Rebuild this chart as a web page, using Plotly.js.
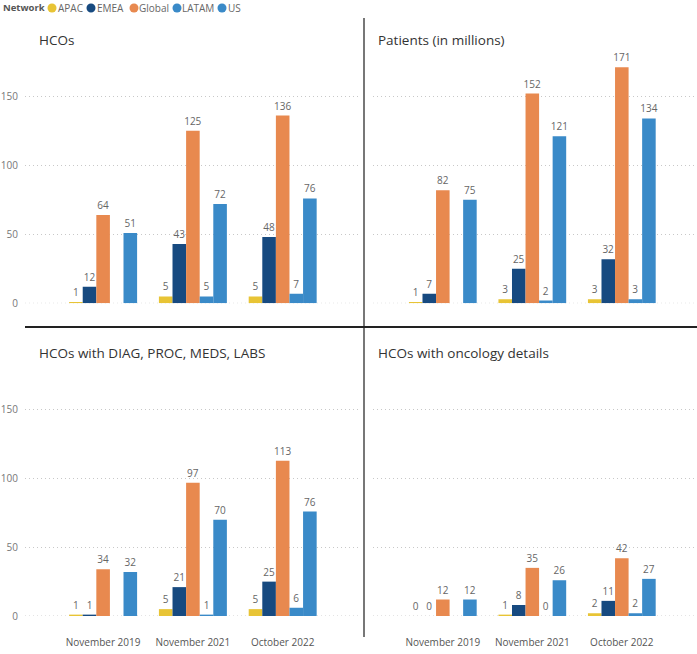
<!DOCTYPE html>
<html>
<head>
<meta charset="utf-8">
<script src="https://cdn.plot.ly/plotly-3.0.1.min.js"></script>
<style>html,body{margin:0;padding:0;background:#fff;}#chart{width:697px;height:654px;}</style>
</head>
<body>
<div id="chart"></div>
<script>
// ---- data ----
const categories = ["November 2019", "November 2021", "October 2022"];
const networks = ["APAC", "EMEA", "Global", "LATAM", "US"];
const colors = ["#E8C435", "#174A80", "#E8894F", "#3A8AC8", "#3A8AC8"];
const panelTitles = ["HCOs", "Patients (in millions)", "HCOs with DIAG, PROC, MEDS, LABS", "HCOs with oncology details"];

// values per network, one per category
const hcos_APAC = [1, 5, 5];
const hcos_EMEA = [12, 43, 48];
const hcos_Global = [64, 125, 136];
const hcos_LATAM = [null, 5, 7];
const hcos_US = [51, 72, 76];

const patients_APAC = [1, 3, 3];
const patients_EMEA = [7, 25, 32];
const patients_Global = [82, 152, 171];
const patients_LATAM = [null, 2, 3];
const patients_US = [75, 121, 134];

const diag_APAC = [1, 5, 5];
const diag_EMEA = [1, 21, 25];
const diag_Global = [34, 97, 113];
const diag_LATAM = [null, 1, 6];
const diag_US = [32, 70, 76];

const onco_APAC = [0, 1, 2];
const onco_EMEA = [0, 8, 11];
const onco_Global = [12, 35, 42];
const onco_LATAM = [null, 0, 2];
const onco_US = [12, 26, 27];

const yTicks = [0, 50, 100, 150];

// ---- build ----
const panels = [
  [hcos_APAC, hcos_EMEA, hcos_Global, hcos_LATAM, hcos_US],
  [patients_APAC, patients_EMEA, patients_Global, patients_LATAM, patients_US],
  [diag_APAC, diag_EMEA, diag_Global, diag_LATAM, diag_US],
  [onco_APAC, onco_EMEA, onco_Global, onco_LATAM, onco_US]
];
const W = 697, H = 654;
const px = v => v / W, py = v => (H - v) / H;

const traces = [];
panels.forEach((series, p) => {
  const ax = p === 0 ? '' : String(p + 1);
  series.forEach((vals, i) => {
    traces.push({
      type: 'bar',
      x: categories,
      y: vals,
      name: networks[i],
      xaxis: 'x' + ax,
      yaxis: 'y' + ax,
      marker: {color: colors[i]},
      text: vals.map(v => v === null ? '' : String(v)),
      textposition: 'outside',
      constraintext: 'none',
      textfont: {size: 10, color: '#666'},
      cliponaxis: false,
      showlegend: false,
      hoverinfo: 'none'
    });
  });
});

const gridColor = '#c8c8c8';
const gridDash = '1px,3px';
function yax(domain, anchor, showLabels) {
  return {
    domain: domain, anchor: anchor, range: [0, 180], tickvals: yTicks, showticklabels: showLabels,
    showgrid: true, gridcolor: gridColor, griddash: gridDash, gridwidth: 1,
    zeroline: false, showline: false, ticks: '', fixedrange: true,
    tickfont: {size: 10, color: '#777'}, ticklabelstandoff: 6
  };
}
function xax(domain, anchor, range, showLabels) {
  return {
    domain: domain, anchor: anchor, range: range, type: 'category', showticklabels: showLabels,
    showgrid: false, zeroline: false, showline: false, ticks: '', fixedrange: true,
    tickfont: {size: 10, color: '#555'}, ticklabelstandoff: 19
  };
}
const leftX = [px(25), px(359)], rightX = [px(373), 1];
const topY = [py(303.3), py(303.3 - 180 * 1.38)], botY = [py(616), py(616 - 180 * 1.375)];
const lr = [-0.87, 2.85], rr = [-0.78, 2.84];

const titleAnn = [[37, 40], [376, 40], [37, 353], [376, 353]].map((pos, i) => ({
  text: panelTitles[i], xref: 'paper', yref: 'paper', x: px(pos[0]), y: py(pos[1]),
  xanchor: 'left', yanchor: 'middle', showarrow: false, font: {size: 13.5, color: '#333'}
}));

const legendFont = 'Open Sans, sans-serif';
const legendAnn = [{
  text: '<b>Network</b>', xref: 'paper', yref: 'paper', x: px(1), y: py(8),
  xanchor: 'left', yanchor: 'middle', showarrow: false, font: {family: legendFont, size: 9.5, color: '#555'}
}];
const dotX = [52, 91, 134, 177, 222];
const textX = [56, 95, 137, 180, 226];
const legendDots = [];
networks.forEach((n, i) => {
  legendDots.push({
    type: 'circle', xref: 'paper', yref: 'paper', xsizemode: 'pixel', ysizemode: 'pixel',
    xanchor: px(dotX[i]), yanchor: py(8), x0: -4.5, x1: 4.5, y0: -4.5, y1: 4.5,
    fillcolor: colors[i], line: {width: 0}
  });
  legendAnn.push({
    text: n, xref: 'paper', yref: 'paper', x: px(textX[i]), y: py(8),
    xanchor: 'left', yanchor: 'middle', showarrow: false, font: {family: legendFont, size: 10, color: '#666'}
  });
});

// dotted baseline at y = 0 in each subplot
const baseShapes = ['', '2', '3', '4'].map(a => ({
  type: 'line', xref: 'x' + a + ' domain', yref: 'y' + a, x0: 0, x1: 1, y0: 0, y1: 0,
  line: {color: gridColor, width: 1, dash: gridDash}, layer: 'below'
}));

const layout = {
  width: W, height: H,
  margin: {l: 0, r: 0, t: 0, b: 0},
  paper_bgcolor: '#fff', plot_bgcolor: 'rgba(0,0,0,0)',
  font: {family: 'Open Sans, sans-serif', color: '#666'},
  barmode: 'group', bargap: 0.243, bargroupgap: 0,
  showlegend: false, hovermode: false,
  xaxis: xax(leftX, 'y', lr, false), yaxis: yax(topY, 'x', true),
  xaxis2: xax(rightX, 'y2', rr, false), yaxis2: yax(topY, 'x2', false),
  xaxis3: xax(leftX, 'y3', lr, true), yaxis3: yax(botY, 'x3', true),
  xaxis4: xax(rightX, 'y4', rr, true), yaxis4: yax(botY, 'x4', false),
  annotations: titleAnn.concat(legendAnn),
  shapes: baseShapes.concat(legendDots).concat([
    {type: 'line', xref: 'paper', yref: 'paper', x0: px(364), x1: px(364), y0: py(18), y1: py(637), line: {color: '#777', width: 2}},
    {type: 'line', xref: 'paper', yref: 'paper', x0: px(25), x1: 1, y0: py(327), y1: py(327), line: {color: '#222', width: 2}}
  ])
};

Plotly.newPlot('chart', traces, layout, {displayModeBar: false, staticPlot: true});
</script>
</body>
</html>
